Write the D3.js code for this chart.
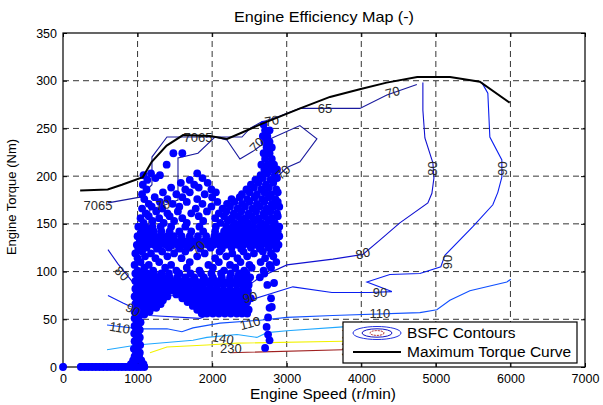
<!DOCTYPE html>
<html><head><meta charset="utf-8">
<script src="https://cdn.jsdelivr.net/npm/d3@7"></script>
<style>body{margin:0;background:#fff}svg{display:block}text{font-family:"Liberation Sans",Arial,sans-serif}</style>
</head><body><svg id="c" width="603" height="405"></svg>
<script>
// ---------------- DATA ----------------
const xTicks = [0,1000,2000,3000,4000,5000,6000,7000];
const yTicks = [0,50,100,150,200,250,300,350];

const maxTorqueSpeed = [230,600,790,1070,1190,1390,1610,1970,2200,2410,2640,3180,3580,3980,4340,4750,5190,5590,5990];
const maxTorque      = [185,186,191,199,215,232,243,242,239,246,254,271,283,291,298,304,304,299,277];

// contour polylines [speed, torque]
const contour7065 = [[603,172],[1032,178],[1193,191],[1193,220],[1394,241],[2400,241],[2507,250],[2641,256],[2909,263],[3177,271],[3981,271],[4343,285],[4745,296]];
const contour70 = [[2667,170],[2373,146],[1970,131],[1635,120],[1300,129],[1139,138],[1166,166],[1300,168],[1542,175],[1542,219],[1810,224],[2037,241],[2198,238],[2373,218],[2547,226],[2775,239],[3177,253],[3405,239],[3177,215],[3003,209],[2841,197],[2707,175]];
const contour80 = [[603,123],[737,108],[965,86],[1434,75],[2239,72],[2641,94],[3003,107],[3619,113],[4021,118],[4249,133],[4517,151],[4893,172],[4947,182],[4974,198],[4960,214],[4853,240],[4826,269],[4826,298]];
const contour90 = [[603,75],[804,67],[1166,54],[1836,51],[2507,70],[3083,84],[3606,78],[4115,78],[4410,79],[4075,89],[4383,97],[4786,98],[5067,105],[5121,117],[5496,147],[5764,170],[5831,183],[5885,199],[5885,217],[5724,241],[5697,287],[5617,298]];
const contour110 = [[590,44],[1032,40],[1394,40],[1595,37],[1743,41],[2105,46],[2641,49],[3003,52],[3619,54],[4786,57],[5013,60],[5188,70],[5456,80],[5952,89],[6005,92]];
const contour140 = [[590,18],[992,23],[1743,28],[1930,31],[2333,34],[2600,31],[2735,36],[3003,38],[3753,42],[4200,44]];
const contour230 = [[1166,15],[1394,21],[1930,23],[2333,25],[3753,27],[4200,28]];
const contour330 = [[2239,15],[3753,18],[4200,19]];

const contourLevels = ['70/65','70','80','90','110','140','230','330'];
const contourColors = ['#1a1a9e','#1a1a9e','#1010d0','#0a1ef0','#1050ff','#20a8ff','#f2f200','#a02020'];

// contour labels: [text, speed, torque, angle]
const contourLabels = [
  ['7065',1810,240,0],['7065',470,169,0],['65',3512,271,0],['70',4420,288,-15],
  ['70',2800,258,-10],['70',2600,233,-45],['70',2950,204,-45],['70',1810,125,-45],['70',1340,170,-10],
  ['80',790,98,45],['80',4020,119,-15],['80',4960,208,-90],
  ['90',5900,208,-90],['90',5160,110,-90],['90',4250,78,0],['90',2510,73,-15],['90',940,60,30],
  ['110',760,41,10],['110',2510,46,-15],['110',4250,56,0],
  ['140',2145,30,10],['140',3880,42,0],['230',2250,19,0],['230',3880,28,0],['330',3880,16,0]
];

// operating points: rows of [torque, speeds]
const opRows = [
 [0,[0,240,290,340,390,440,490,540,590,640,690,740,790,840,890,940,990,1040,1090]],
 [3,[910,970,1030,1080]],[7,[940,1000,1050]],[11,[960,1020]],[15,[980,1030]],
 [19,[950,1000]],[20,[2710]],[23,[985,1035]],[27,[960,1010]],[28,[2770]],[31,[990,1030]],
 [34,[2750]],[35,[955,1005]],[39,[980,1030]],[42,[2730]],[43,[960,1010]],[47,[990,1040]],
 [51,[960,1005]],[52,[2750]],[55,[985,1040,1090]],
 [56,[1860,1930,2010,2090,2170,2250,2330,2400,2470]],
 [58,[960,1010,1060,1110,1160]],
 [60,[1800,1870,1950,2030,2110,2190,2270,2350,2430,2490]],
 [62,[990,1050,1120,1190,1250,2770]],[63,[2800]],
 [64,[1740,1810,1890,1970,2050,2130,2210,2290,2370,2450]],
 [66,[970,1030,1090,1150,1230,1310]],
 [68,[1670,1750,1830,1910,1990,2070,2150,2230,2310,2390,2470]],
 [70,[990,1050,1110,1180,1260,1340]],
 [72,[1600,1680,1760,1840,1920,2000,2080,2160,2240,2320,2400,2480,2520,2790]],
 [74,[960,1020,1080,1150,1230,1320,1400]],
 [76,[1520,1600,1680,1760,1840,1920,2000,2080,2160,2240,2320,2400,2470]],
 [78,[990,1060,1130,1210,1290,1370]],
 [80,[1440,1520,1600,1680,1760,1840,1920,2000,2080,2160,2240,2320,2400,2480]],
 [82,[970,1030,1100,1170,1250,1330,1400]],
 [86,[1000,1070,1140,1220,1300,1380,1460,1540,1620,1700,1790,1880,1970,2060,2150,2240,2330,2410,2490,2740]],
 [88,[2830]],
 [90,[970,1040,1110,1190,1270,1350,1430,1510,1600,1690,1780,1870,1960,2050,2140,2230,2320,2400,2480]],
 [94,[1000,1080,1160,1250,1340,1430,1530,1640,1760,1890,2010,2130,2240,2340,2430,2510,2640]],
 [98,[970,1050,1130,1220,1320,1420,1560,1710,1850,1990,2120,2250,2360,2460,2700]],
 [101,[1000,1210,1520,1830,2160,2430,2690]],
 [104,[1090,1370,1660,2010,2310,2530,2790]],
 [107,[960,1150,1450,1950,2240,2500,2770]],
 [110,[1040,1290,1700,2090,2380,2650,2860]],
 [114,[1000,1240,1590,2040,2340,2710]],
 [116,[1100,1400,1800,2190,2470,2820]],
 [119,[970,1180,1490,1900,2270,2560,2790]],
 [121,[1060,1330,1640,2100,2420,2680]],
 [124,[1010,1260,1560,1840,2130,2390,2640,2860]],
 [125,[1120,1420,1700,1980,2260,2520,2760]],
 [128,[990,1060,1140,1220,1300,1380,1460,1540,1620,1700,1780,1860,1940,2020,2100,2180,2260,2340,2420,2500,2580,2660,2740,2820,2890]],
 [132,[1030,1100,1180,1260,1340,1420,1500,1580,1660,1740,1820,1900,1980,2060,2140,2220,2300,2380,2460,2540,2620,2700,2780,2860]],
 [137,[1000,1070,1150,1230,1310,1400,1490,1590,1700,1810,1920,2030,2120,2200,2280,2360,2440,2520,2600,2680,2760,2840,2900]],
 [142,[1050,1130,1220,1320,1430,1560,1720,1880,2040,2160,2240,2320,2400,2480,2560,2640,2720,2800,2880]],
 [147,[1010,1100,1200,1310,1450,1640,1830,2050,2190,2280,2370,2460,2550,2640,2730,2820,2900]],
 [151,[1080,1350,1660,2110,2300,2480,2660,2840]],[153,[1200,1490,1880,2210,2390,2570,2750]],
 [156,[1040,1290,1600,2040,2260,2440,2620,2800]],[158,[1150,1430,1820,2160,2350,2530,2710,2880]],
 [161,[1110,1400,1720,2090,2290,2490,2690,2870]],[163,[1250,1540,1930,2190,2390,2590,2780]],
 [166,[1060,1330,1780,2140,2340,2540,2730]],[168,[1190,1560,1990,2240,2440,2640,2820,2900]],
 [171,[1150,1470,1870,2200,2400,2600,2800]],[173,[1300,1660,2070,2300,2500,2700,2880]],
 [176,[1090,1400,1800,2260,2470,2670,2850]],[178,[1230,1600,2000,2370,2570,2760]],
 [181,[1060,1520,1900,2400,2600,2790]],[183,[1340,1700,2050,2500,2700,2880]],
 [186,[1120,1640,1990,2460,2660,2860]],[188,[1450,1820,2560,2760]],
 [191,[1070,1760,2520,2720]],[193,[1580,1940,2620,2820]],
 [196,[1130,1700,2580,2780]],[198,[1240,1870,2680,2870]],
 [201,[1080,1300,2650,2840]],[203,[1180,1800,2740]],
 [207,[2700,2790,2870]],
 [212,[1390,2660,2750,2830]],
 [218,[2710,2800]],
 [224,[1480,1600,2690,2770]],
 [230,[2730,2800]],
 [236,[2700,2770]],
 [242,[2680,2740]],
 [248,[2710,2770]],
 [254,[2690]]
];

const legendLabels = ['BSFC Contours','Maximum Torque Curve'];

// ---------------- CHART ----------------
const svg = d3.select('#c');
const x = d3.scaleLinear().domain([0,7000]).range([63,585]);
const y = d3.scaleLinear().domain([0,350]).range([367,33]);

const grid = svg.append('g').attr('stroke','#000').attr('stroke-width',0.8).attr('stroke-dasharray','6,4');
grid.selectAll('.gx').data(xTicks.slice(1,-1)).join('line')
  .attr('x1',d=>x(d)).attr('x2',d=>x(d)).attr('y1',y(0)).attr('y2',y(350));
grid.selectAll('.gy').data(yTicks.slice(1,-1)).join('line')
  .attr('y1',d=>y(d)).attr('y2',d=>y(d)).attr('x1',x(0)).attr('x2',x(7000));

svg.append('clipPath').attr('id','pc').append('rect')
  .attr('x',x(0)).attr('y',y(350)).attr('width',x(7000)-x(0)).attr('height',y(0)-y(350));
const plot = svg.append('g').attr('clip-path','url(#pc)');

const line = d3.line().x(d=>x(d[0])).y(d=>y(d[1]));
const contours = [contour7065,contour70,contour80,contour90,contour110,contour140,contour230,contour330];
plot.selectAll('.ct').data(contours).join('path')
  .attr('d',line).attr('fill','none')
  .attr('stroke',(d,i)=>contourColors[i]).attr('stroke-width',1.1);

const pts = [];
opRows.forEach(([t,ss])=>ss.forEach(s=>pts.push([s,t])));
plot.selectAll('.pt').data(pts).join('circle')
  .attr('cx',d=>x(d[0])).attr('cy',d=>y(d[1])).attr('r',3.9).attr('fill','#0000ff');

plot.selectAll('.cl').data(contourLabels).join('text')
  .attr('transform',d=>`translate(${x(d[1])},${y(d[2])}) rotate(${d[3]})`)
  .attr('text-anchor','middle').attr('dominant-baseline','central')
  .attr('font-size',13).attr('fill','#2a2a2a').text(d=>d[0]);

plot.append('path').datum(maxTorqueSpeed.map((s,i)=>[s,maxTorque[i]]))
  .attr('d',line).attr('fill','none').attr('stroke','#000').attr('stroke-width',2);

const ax = svg.append('g').attr('transform',`translate(0,${y(0)})`)
  .call(d3.axisBottom(x).tickValues(xTicks).tickSizeInner(-4).tickSizeOuter(0).tickPadding(7).tickFormat(d3.format('d')));
const ay = svg.append('g').attr('transform',`translate(${x(0)},0)`)
  .call(d3.axisLeft(y).tickValues(yTicks).tickSizeInner(-4).tickSizeOuter(0).tickPadding(6));
const at = svg.append('g').attr('transform',`translate(0,${y(350)})`)
  .call(d3.axisTop(x).tickValues(xTicks).tickSizeInner(-4).tickSizeOuter(0).tickFormat(''));
const ar = svg.append('g').attr('transform',`translate(${x(7000)},0)`)
  .call(d3.axisRight(y).tickValues(yTicks).tickSizeInner(-4).tickSizeOuter(0).tickFormat(''));
[ax,ay,at,ar].forEach(g=>{g.select('.domain').remove();g.selectAll('text').attr('font-size',12.5).attr('fill','#000').attr('font-family','"Liberation Sans",Arial,sans-serif');});
svg.append('rect').attr('x',x(0)).attr('y',y(350)).attr('width',x(7000)-x(0)).attr('height',y(0)-y(350))
  .attr('fill','none').attr('stroke','#000').attr('stroke-width',1.2);

svg.selectAll('.pt0').data(pts.filter(d=>d[1]===0)).join('circle')
  .attr('cx',d=>x(d[0])).attr('cy',d=>y(d[1])).attr('r',3.9).attr('fill','#0000ff');

svg.append('text').attr('x',324).attr('y',22).attr('text-anchor','middle').attr('font-size',14.5)
  .attr('textLength',180).attr('lengthAdjust','spacingAndGlyphs').text('Engine Efficiency Map (-)');
svg.append('text').attr('x',323).attr('y',399).attr('text-anchor','middle').attr('font-size',14.5)
  .attr('textLength',146).attr('lengthAdjust','spacingAndGlyphs').text('Engine Speed (r/min)');
svg.append('text').attr('transform','translate(16,197) rotate(-90)').attr('text-anchor','middle').attr('font-size',13).text('Engine Torque (Nm)');

const lg = svg.append('g');
lg.append('rect').attr('x',343).attr('y',322).attr('width',234).attr('height',41).attr('fill','#fff').attr('stroke','#000').attr('stroke-width',1.2);
lg.append('ellipse').attr('cx',377).attr('cy',333).attr('rx',24).attr('ry',6.5).attr('fill','none').attr('stroke','#2030e0');
lg.append('ellipse').attr('cx',377).attr('cy',333).attr('rx',15).attr('ry',4.2).attr('fill','none').attr('stroke','#1010c0');
lg.append('ellipse').attr('cx',377).attr('cy',333).attr('rx',7).attr('ry',2.4).attr('fill','none').attr('stroke','#b02020').attr('stroke-dasharray','2,1');
lg.append('line').attr('x1',353).attr('x2',401).attr('y1',352).attr('y2',352).attr('stroke','#000').attr('stroke-width',2);
lg.selectAll('.lt').data(legendLabels).join('text')
  .attr('x',407).attr('y',(d,i)=>338+i*19).attr('font-size',15.5).text(d=>d);
</script></body></html>
